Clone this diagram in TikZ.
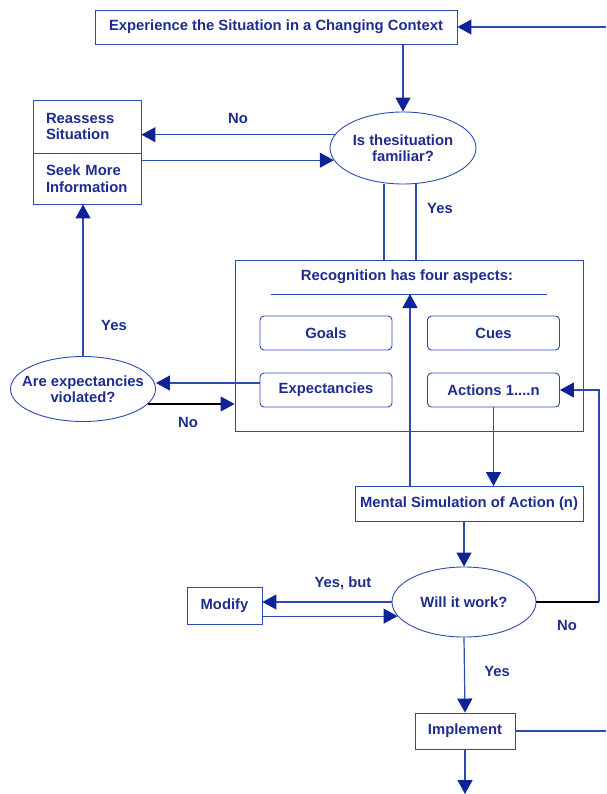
\documentclass[tikz,border=0pt]{standalone}
\usepackage{fontspec}
\setmainfont{Liberation Sans}
\usetikzlibrary{shapes.geometric,arrows.meta}
\definecolor{ln}{RGB}{45,75,175}
\definecolor{tx}{RGB}{30,45,140}
\definecolor{ah}{RGB}{15,35,150}
\tikzset{
  every node/.style={font=\fontsize{14.8}{16.5}\selectfont\bfseries, text=tx},
  box/.style={draw=ln, line width=0.9pt, rectangle, inner sep=2pt},
  rbox/.style={draw=ln, line width=0.9pt, rectangle, rounded corners=4pt, minimum width=132pt, minimum height=34pt},
  oval/.style={draw=ln, line width=0.9pt, ellipse, inner sep=0pt, align=center},
  arr/.style={draw=ln, line width=1.2pt, -{Triangle[length=14pt,width=15pt,color=ah]}},
  arrk/.style={draw=black, line width=1.2pt, -{Triangle[length=14pt,width=15pt,color=ah]}},
  con/.style={draw=ln, line width=1.2pt},
  lbl/.style={inner sep=0pt}
}
\begin{document}
\begin{tikzpicture}[x=1pt,y=-1pt]
\useasboundingbox (0,0) rectangle (606,794);
% nodes
\node[box, minimum width=362pt, minimum height=34pt] (top) at (276,27) {Experience the Situation in a Changing Context};
\node[oval, minimum width=146pt, minimum height=72pt] (fam) at (403,148) {\makebox[96pt]{Is thesituation}\\\makebox[96pt]{familiar?}};
\node[box, minimum width=108pt, minimum height=53pt, text width=82pt, align=left] (reas) at (87,126.5) {Reassess\\Situation};
\node[box, minimum width=108pt, minimum height=51pt, text width=82pt, align=left] (seek) at (87,178.5) {Seek More\\Information};
\node[box, minimum width=348pt, minimum height=171pt] (rec) at (409,345.5) {};
\node[lbl] (rtitle) at (407,277) {Recognition has four aspects:};
\coordinate (hlA) at (271,294);
\coordinate (hlB) at (547,294);
\coordinate (hlM) at (410,294);
\node[rbox] (goals) at (326,333) {Goals};
\node[rbox] (cues) at (493.5,333) {Cues};
\node[rbox] (exp) at (326,390) {Expectancies};
\node[rbox] (act) at (493.5,390) {Actions 1....n};
\node[oval, minimum width=145pt, minimum height=65pt] (viol) at (83,389) {\makebox[96pt]{Are expectancies}\\\makebox[96pt]{violated?}};
\node[box, minimum width=228pt, minimum height=35pt] (ms) at (469,504) {Mental Simulation of Action (n)};
\node[oval, minimum width=144pt, minimum height=70pt] (will) at (464,602) {Will it work?};
\node[box, minimum width=75pt, minimum height=37pt] (mod) at (224.5,605.5) {Modify};
\node[box, minimum width=100pt, minimum height=36pt] (impl) at (465,731) {Implement};
\coordinate (inR) at (606,27);
\coordinate (outR) at (606,731);
\coordinate (outB) at (465,794);
\coordinate (nr) at (599,390);
% labels
\node[lbl] (lno1) at (238,118) {No};
\node[lbl] (lyes1) at (440,208) {Yes};
\node[lbl] (lyes2) at (114,325) {Yes};
\node[lbl] (lno2) at (188,422) {No};
\node[lbl] (lyb) at (343,583) {Yes, but};
\node[lbl] (lno3) at (567,625) {No};
\node[lbl] (lyes3) at (497,671) {Yes};
% connectors
\draw[arr] (inR) -- (top.east);
\draw[arr] (fam.north |- top.south) -- (fam.north);
\draw[arr] (fam.169) -- (fam.169 -| reas.east);
\draw[arr] (seek.east |- fam.190) -- (fam.190);
\draw[con] ([xshift=-19pt]fam.south) -- ([xshift=-19pt]fam.south |- rec.north);
\draw[con] ([xshift=13pt]fam.south) -- ([xshift=13pt]fam.south |- rec.north);
\draw[con, line width=0.9pt] (hlA) -- (hlB);
\draw[arr] (hlM |- ms.north) -- (hlM);
\draw[arr] ([yshift=7pt]exp.west) -- ([yshift=7pt]exp.west -| viol.east);
\draw[arrk] (viol.-13) -- (viol.-13 -| rec.west);
\draw[arr] (viol.north) -- (viol.north |- seek.south);
\draw[arr] (act.south) -- (act.south |- ms.north);
\draw[arr] (will.north |- ms.south) -- (will.north);
\draw[draw=black, line width=1.2pt] (will.east) -- (will.east -| nr);
\draw[arr] (will.east -| nr) -- (nr) -- (act.east);
\draw[arr] (will.west) -- (will.west -| mod.east);
\draw[arr] (will.192 -| mod.east) -- (will.192);
\draw[arr] (will.south) -- (impl.north);
\draw[con] (impl.east) -- (outR);
\draw[arr] (impl.south) -- (outB);
\end{tikzpicture}
\end{document}
